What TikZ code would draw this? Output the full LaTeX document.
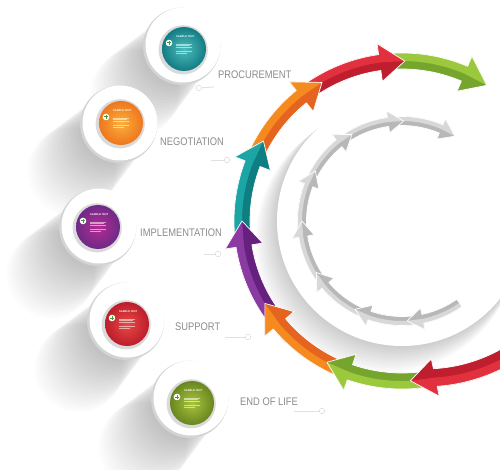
\documentclass[tikz,border=0pt]{standalone}
\usepackage{fontspec}
\setmainfont{Liberation Sans}
\newfontfamily\lblfont[FakeStretch=0.85]{Liberation Sans}
\usetikzlibrary{calc}
\definecolor{lbl}{HTML}{8C8C8C}
\definecolor{redL}{HTML}{E2303F}\definecolor{redD}{HTML}{BE1E2D}
\definecolor{greenL}{HTML}{9BC83C}\definecolor{greenD}{HTML}{76A52E}
\definecolor{orangeL}{HTML}{F58A21}\definecolor{orangeD}{HTML}{E5641F}
\definecolor{purpleL}{HTML}{8A3AA0}\definecolor{purpleD}{HTML}{66217F}
\definecolor{tealL}{HTML}{1BA5A5}\definecolor{tealD}{HTML}{0F7E82}
\definecolor{grayL}{HTML}{D8D8D8}\definecolor{grayD}{HTML}{B8B8B8}
\definecolor{tealIn}{HTML}{4DBDBD}\definecolor{tealOut}{HTML}{137C83}
\definecolor{orangeIn}{HTML}{FBB03B}\definecolor{orangeOut}{HTML}{EE761F}
\definecolor{purpleIn}{HTML}{B42C90}\definecolor{purpleOut}{HTML}{6E2A88}
\definecolor{redIn}{HTML}{E84A45}\definecolor{redOut}{HTML}{BC1D2B}
\definecolor{greenIn}{HTML}{A9C43C}\definecolor{greenOut}{HTML}{688620}
\definecolor{ringedge}{HTML}{D4D4D4}
\definecolor{discedge}{HTML}{DADADA}
\definecolor{plusc}{HTML}{3E9A3A}
\definecolor{bgA}{HTML}{E0E0E0}
\definecolor{bgB}{HTML}{EEEEEE}
\pgfdeclareradialshading{ringshade}{\pgfpoint{0bp}{0bp}}{color(0bp)=(white); color(27bp)=(white); color(29bp)=(bgA); color(38bp)=(bgB); color(50bp)=(white)}

\tikzset{
  ringstyle/.style={circle, fill=white, minimum size=75, inner sep=0},
  discstyle/.style={circle, shading=radial, minimum size=44, inner sep=0},
  headtxt/.style={anchor=west, inner sep=0, text=white, font=\fontsize{2.6}{3}\selectfont\bfseries},
  txtline/.style={white, opacity=0.55, line width=0.5},
  label/.style={anchor=west, inner sep=0, text=lbl, font=\lblfont\fontsize{11}{11}\selectfont},
  dotstyle/.style={circle, fill=white, draw=ringedge, line width=0.4, minimum size=5.5, inner sep=0},
  linkline/.style={white!88!black, line width=0.9}
}

% #1 start, #2 tip, #3 radius, #4 half band, #5 half head, #6 head angle, #7 light, #8 dark, #9 tail extra radius
\newcommand{\rkarrow}[9]{%
  \pgfmathsetmacro{\rkea}{#2-#6}%
  \pgfmathsetmacro{\rkho}{#3+#5}%
  \pgfmathsetmacro{\rkhi}{#3-#5}%
  \pgfmathsetmacro{\rkspan}{\rkea-#1}%
  \fill[#8] plot[domain=#1:\rkea, samples=24, variable=\rkt] ({\rkt}:{#3+#4+#9*(\rkea-\rkt)/\rkspan}) -- (\rkea:\rkho) -- (#2:#3) -- (\rkea:\rkhi) -- plot[domain=\rkea:#1, samples=24, variable=\rkt] ({\rkt}:{#3-#4+#9*(\rkea-\rkt)/\rkspan}) -- cycle;
  \fill[#7] plot[domain=#1:\rkea, samples=24, variable=\rkt] ({\rkt}:{#3+#4+#9*(\rkea-\rkt)/\rkspan}) -- (\rkea:\rkho) -- (#2:#3) -- plot[domain=\rkea:#1, samples=24, variable=\rkt] ({\rkt}:{#3+#9*(\rkea-\rkt)/\rkspan}) -- cycle;
  \draw[white, line width=0.7, line join=round] plot[domain=#1:\rkea, samples=24, variable=\rkt] ({\rkt}:{#3+#4+#9*(\rkea-\rkt)/\rkspan}) -- (\rkea:\rkho) -- (#2:#3) -- (\rkea:\rkhi) -- plot[domain=\rkea:#1, samples=24, variable=\rkt] ({\rkt}:{#3-#4+#9*(\rkea-\rkt)/\rkspan}) -- cycle;
}

% #1 id, #2 ring centre, #3 disc centre, #4 inner colour, #5 outer colour
\newcommand{\rkring}[5]{%
  \fill[ringedge] ($(#2)+(-1.3,1.3)$) circle (38.6);
  \node[ringstyle] (ring#1) at (#2) {};
  \fill[discedge] ($(#3)+(-0.8,0.8)$) circle (24.6);
  \node[discstyle, inner color=#4, outer color=#5] (disc#1) at (#3) {};
  \fill[white] ($(disc#1)+(-15,-6)$) circle (3.3);
  \draw[plusc, line width=1] ($(disc#1)+(-16.8,-6)$) -- ++(3.6,0) ($(disc#1)+(-15,-7.8)$) -- ++(0,3.6);
  \node[headtxt] at ($(disc#1)+(-8,-12)$) {SAMPLE TEXT};
  \foreach \rky/\rkl in {-5/16,-3.3/14,-1.6/16,2.5/16,4.2/11} \draw[txtline] ($(disc#1)+(-8,\rky)$) -- ++(\rkl,0);
}

\begin{document}
\begin{tikzpicture}[x=1pt,y=-1pt]
\useasboundingbox (0,0) rectangle (500,470);
\clip (0,0) rectangle (500,470);
\fill[white] (0,0) rectangle (500,470);

% background shading around the cycle
\begin{scope}[shift={(402,221)}]
  \shade[shading=ringshade] (0,0) circle (215);
  \foreach \k in {1,...,12} \fill[black, opacity=0.015] (-\k*1.3,\k*1.7) circle (125+\k*0.5);
\end{scope}

% long soft shadows of the rings
\foreach \cx/\cy in {183/45, 120/123, 99/226, 127/320, 191/398}{
  \foreach \k in {1,...,22} \fill[black, opacity=0.011] (\cx-2.2*\k, \cy+2.2*\k) circle (34+\k*0.45);
}

\begin{scope}[shift={(402,221)}]
  \fill[white] (0,0) circle (125);
  % grey inner arrows (drawn last-to-first)
  \rkarrow{268}{302}{100}{4.5}{11}{9}{grayL}{grayD}{0}
  \rkarrow{236}{271}{100}{4.5}{11}{9}{grayL}{grayD}{0}
  \rkarrow{206}{240}{100}{4.5}{11}{9}{grayL}{grayD}{0}
  \rkarrow{176}{210}{100}{4.5}{11}{9}{grayL}{grayD}{0}
  \rkarrow{145}{180}{100}{4.5}{11}{9}{grayL}{grayD}{0}
  \rkarrow{114}{149}{100}{4.5}{11}{9}{grayL}{grayD}{0}
  \rkarrow{83}{118}{100}{4.5}{11}{9}{grayL}{grayD}{0}
  \rkarrow{55}{87}{100}{4.5}{11}{9}{grayL}{grayD}{0}
  % coloured outer arrows (drawn last-to-first)
  \rkarrow{267}{302}{160}{8}{19}{9}{greenL}{greenD}{0}
  \rkarrow{236}{271}{160}{8}{19}{9}{redL}{redD}{0}
  \rkarrow{206}{240}{160}{8}{19}{9}{orangeL}{orangeD}{0}
  \rkarrow{176}{210}{160}{8}{19}{9}{tealL}{tealD}{0}
  \rkarrow{145}{180}{160}{8}{19}{9}{purpleL}{purpleD}{0}
  \rkarrow{114}{149}{160}{8}{19}{9}{orangeL}{orangeD}{0}
  \rkarrow{83}{118}{160}{8}{19}{9}{greenL}{greenD}{0}
  \rkarrow{45}{87}{160}{9}{19}{9}{redL}{redD}{14}
\end{scope}

% rings
\rkring{1}{183,45}{184,49}{tealIn}{tealOut}
\rkring{2}{120,123}{121,123}{orangeIn}{orangeOut}
\rkring{3}{99,226}{98,227}{purpleIn}{purpleOut}
\rkring{4}{127,320}{127,324}{redIn}{redOut}
\rkring{5}{191,398}{192,403}{greenIn}{greenOut}

% labels
\node[label] (lproc) at (218,75) {PROCUREMENT};
\node[label] (lnego) at (160,142) {NEGOTIATION};
\node[label] (limpl) at (140,233) {IMPLEMENTATION};
\node[label] (lsupp) at (175,327) {SUPPORT};
\node[label] (lend)  at (240,402) {END OF LIFE};

% connector dots
\coordinate (e1) at (214,87);
\coordinate (e2) at (211,160);
\coordinate (e3) at (204,254);
\coordinate (e4) at (225,337);
\coordinate (e5) at (294,411);
\node[dotstyle] (dot1) at (199,88) {};
\node[dotstyle] (dot2) at (227,160) {};
\node[dotstyle] (dot3) at (218,254) {};
\node[dotstyle] (dot4) at (248,337) {};
\node[dotstyle] (dot5) at (322,411) {};
\draw[linkline] (dot1) -- (e1);
\draw[linkline] (e2) -- (dot2);
\draw[linkline] (e3) -- (dot3);
\draw[linkline] (e4) -- (dot4);
\draw[linkline] (e5) -- (dot5);
\end{tikzpicture}
\end{document}
